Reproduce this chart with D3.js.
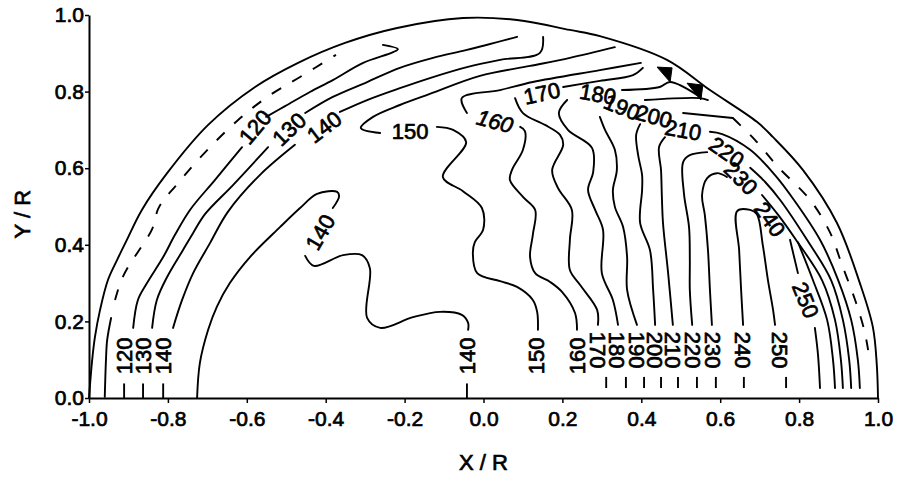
<!DOCTYPE html>
<html><head><meta charset="utf-8">
<script src="https://cdn.jsdelivr.net/npm/d3@7"></script>
<style>html,body{margin:0;padding:0;background:#fff;} svg{display:block;}</style>
</head><body>
<svg id="chart" width="902" height="477"></svg>
<script>
// ---------------- data (X/R, Y/R units) ----------------
const xTicks = [-1.0,-0.8,-0.6,-0.4,-0.2,0.0,0.2,0.4,0.6,0.8,1.0];
const xTickLabels = ["-1.0","-0.8","-0.6","-0.4","-0.2","0.0","0.2","0.4","0.6","0.8","1.0"];
const yTicks = [0.0,0.2,0.4,0.6,0.8,1.0];
const yTickLabels = ["0.0","0.2","0.4","0.6","0.8","1.0"];
const xTitle = "X / R";
const yTitle = "Y / R";

const boundary = [[-1.000,0],[-0.992,0.099],[-0.985,0.159],[-0.972,0.230],[-0.952,0.308],[-0.929,0.360],[-0.904,0.413],[-0.866,0.491],[-0.802,0.587],[-0.698,0.713],[-0.579,0.812],[-0.470,0.875],[-0.351,0.927],[-0.219,0.966],[-0.052,0.992],[0.085,0.987],[0.219,0.961],[0.295,0.945],[0.465,0.883],[0.574,0.804],[0.693,0.721],[0.734,0.681],[0.810,0.595],[0.896,0.457],[0.954,0.300],[0.987,0.185],[0.997,0.086],[1.000,0]];

const c110a = [[-0.960,0.003],[-0.957,0.099],[-0.954,0.151],[-0.944,0.209]];
const c110b = [[-0.934,0.256],[-0.919,0.305],[-0.901,0.342],[-0.871,0.389],[-0.840,0.441],[-0.825,0.493],[-0.807,0.522],[-0.785,0.548],[-0.719,0.627],[-0.622,0.726],[-0.541,0.791],[-0.465,0.838],[-0.374,0.896]];

const c120a = [[-0.888,0.183],[-0.876,0.256],[-0.853,0.300],[-0.812,0.368],[-0.782,0.426],[-0.744,0.491],[-0.681,0.569],[-0.612,0.655]];
const c120b = [[-0.551,0.734],[-0.503,0.762],[-0.440,0.799],[-0.382,0.830],[-0.305,0.875],[-0.229,0.903],[-0.217,0.911],[-0.255,0.922]];
const c130a = [[-0.840,0.183],[-0.828,0.256],[-0.802,0.316],[-0.762,0.386],[-0.736,0.431],[-0.706,0.480],[-0.635,0.556],[-0.546,0.655]];
const c130b = [[-0.452,0.744],[-0.382,0.786],[-0.295,0.825],[-0.212,0.862],[-0.128,0.888],[-0.042,0.909],[0.085,0.943]];
const c140a = [[-0.787,0.183],[-0.764,0.256],[-0.736,0.326],[-0.693,0.405],[-0.648,0.486],[-0.567,0.582],[-0.478,0.661]];
const c140b = [[-0.364,0.747],[-0.295,0.778],[-0.212,0.809],[-0.128,0.838],[-0.042,0.864],[0.042,0.883],[0.143,0.901],[0.151,0.943]];
const c140ia = [[-0.726,0],[-0.719,0.091],[-0.698,0.178],[-0.676,0.238],[-0.643,0.300],[-0.592,0.368],[-0.516,0.446],[-0.465,0.496],[-0.422,0.533],[-0.371,0.538],[-0.366,0.527],[-0.382,0.496]];
const c140ib = [[-0.452,0.371],[-0.430,0.345],[-0.356,0.373],[-0.308,0.373],[-0.288,0.339],[-0.295,0.209],[-0.262,0.183],[-0.179,0.211],[-0.110,0.225],[-0.055,0.217],[-0.039,0.196],[-0.039,0.178]];
const c150a = [[-0.262,0.692],[-0.311,0.705],[-0.280,0.734],[-0.212,0.765],[-0.136,0.794],[-0.009,0.841],[0.118,0.867],[0.219,0.888],[0.333,0.916]];
const c150b = [[-0.118,0.708],[-0.077,0.700],[-0.044,0.668],[-0.103,0.577],[-0.052,0.540],[-0.004,0.496],[-0.001,0.439],[-0.022,0.407],[-0.027,0.379],[-0.016,0.326],[0.042,0.305],[0.085,0.290],[0.125,0.256],[0.136,0.225],[0.138,0.178]];
const c160a = [[-0.042,0.744],[-0.055,0.783],[0.042,0.804],[0.125,0.825],[0.295,0.856],[0.399,0.875]];
const c160b = [[0.093,0.708],[0.105,0.697],[0.100,0.648],[0.072,0.595],[0.067,0.569],[0.100,0.525],[0.131,0.491],[0.125,0.426],[0.118,0.368],[0.131,0.326],[0.169,0.303],[0.199,0.277],[0.232,0.222],[0.237,0.178]];
const c170a = [[0.080,0.783],[0.100,0.744],[0.156,0.713],[0.194,0.687],[0.202,0.661],[0.174,0.595],[0.189,0.548],[0.224,0.491],[0.219,0.413],[0.219,0.334],[0.245,0.295],[0.288,0.230],[0.290,0.191]];
const c170b = [[0.202,0.812],[0.295,0.828],[0.379,0.843],[0.404,0.862]];
const c180a = [[0.212,0.778],[0.191,0.744],[0.214,0.700],[0.275,0.653],[0.278,0.590],[0.265,0.543],[0.283,0.491],[0.303,0.439],[0.300,0.326],[0.328,0.256],[0.341,0.191]];
const c180b = [[0.351,0.804],[0.447,0.812],[0.473,0.825],[0.549,0.786]];
const c190a = [[0.295,0.734],[0.308,0.700],[0.333,0.648],[0.338,0.595],[0.328,0.543],[0.333,0.499],[0.354,0.446],[0.364,0.368],[0.364,0.282],[0.389,0.191]];
const c190b = [[0.409,0.778],[0.549,0.783],[0.569,0.778]];
const c200a = [[0.397,0.715],[0.387,0.687],[0.392,0.634],[0.402,0.582],[0.402,0.543],[0.397,0.457],[0.422,0.386],[0.430,0.282],[0.435,0.191]];
const c200b = [[0.506,0.744],[0.632,0.731]];
const c200c = [[0.632,0.731],[0.688,0.674],[0.747,0.603],[0.828,0.517],[0.878,0.433],[0.909,0.347],[0.942,0.256],[0.965,0.178],[0.975,0.125]];
const c210a = [[0.460,0.681],[0.445,0.655],[0.450,0.595],[0.452,0.530],[0.455,0.457],[0.468,0.326],[0.480,0.191]];
const c210b = [[0.574,0.695],[0.605,0.689],[0.676,0.648],[0.739,0.582],[0.787,0.517],[0.853,0.413],[0.899,0.308],[0.932,0.204],[0.949,0.099],[0.954,0.026]];
const c220a = [[0.567,0.642],[0.523,0.634],[0.506,0.616],[0.508,0.535],[0.521,0.446],[0.523,0.360],[0.523,0.282],[0.529,0.191]];
const c220b = [[0.676,0.601],[0.714,0.564],[0.752,0.517],[0.820,0.413],[0.881,0.308],[0.911,0.204],[0.927,0.099],[0.932,0.026]];
const c230a = [[0.617,0.577],[0.592,0.587],[0.567,0.574],[0.554,0.530],[0.561,0.478],[0.569,0.386],[0.574,0.282],[0.579,0.191]];
const c230b = [[0.706,0.530],[0.747,0.478],[0.792,0.413],[0.858,0.308],[0.891,0.204],[0.906,0.099],[0.911,0.026]];
const c240a = [[0.658,0.191],[0.653,0.282],[0.648,0.386],[0.643,0.488],[0.676,0.491],[0.693,0.480],[0.708,0.399],[0.721,0.308],[0.734,0.230],[0.739,0.191]];
const c240b = [[0.777,0.413],[0.797,0.326]];
const c240c = [[0.840,0.183],[0.848,0.112],[0.853,0.026]];
const c240d = [[0.797,0.407],[0.835,0.308],[0.871,0.204],[0.886,0.099],[0.891,0.026]];

const tri1 = [[0.440,0.864],[0.478,0.862],[0.473,0.825]];
const tri2 = [[0.516,0.822],[0.556,0.817],[0.551,0.778]];

const leftStubX = [-0.911,-0.863,-0.812,-0.042];
const leftStubY = [0.0,0.038];
const rightStubX = [0.311,0.361,0.407,0.450,0.493,0.541,0.589,0.660,0.767];
const rightStubY = [0.026,0.055];

const inLabelText = ["120","130","140","140","150","160","170","180","190","200","210","220","230","240","250"];
const inLabelX = [-0.579,-0.493,-0.404,-0.414,-0.186,0.029,0.148,0.290,0.351,0.432,0.506,0.617,0.653,0.726,0.817];
const inLabelY = [0.708,0.702,0.708,0.433,0.697,0.723,0.796,0.794,0.760,0.736,0.700,0.642,0.574,0.467,0.256];

const bottomLeftText = ["120","130","140","140","150","160"];
const bottomLeftX = [-0.911,-0.863,-0.812,-0.042,0.133,0.237];
const bottomLeftY = 0.110;
const bottomRightText = ["170","180","190","200","210","220","230","240","250"];
const bottomRightX = [0.290,0.338,0.389,0.435,0.480,0.531,0.582,0.658,0.752];
const bottomRightY = 0.125;

// ---------------- drawing ----------------
const W = 902, H = 477;
const FONT = "'Liberation Sans', Arial, Helvetica, sans-serif";
const svg = d3.select("#chart");
svg.append("rect").attr("width", W).attr("height", H).attr("fill", "#fff");

const x = d3.scaleLinear().domain([-1, 1]).range([89, 878]);
const y = d3.scaleLinear().domain([0, 1]).range([398, 15]);

const line = d3.line().x(d => x(d[0])).y(d => y(d[1])).curve(d3.curveCatmullRom.alpha(0.5));
const straight = d3.line().x(d => x(d[0])).y(d => y(d[1]));

const solidLines = [boundary, c110a, c120a, c120b, c130a, c130b, c140a, c140b, c140ia, c140ib,
  c150a, c150b, c160a, c160b, c170a, c170b, c180a, c180b, c190a, c190b, c200a, c200b,
  c210a, c210b, c220a, c220b, c230a, c230b, c240a, c240b, c240c, c240d];
const dashedLines = [c110b, c200c];

const g = svg.append("g");
g.selectAll("path.solid").data(solidLines).join("path")
  .attr("class", "solid").attr("d", line)
  .attr("fill", "none").attr("stroke", "#000").attr("stroke-width", 1.9)
  .attr("stroke-linejoin", "round").attr("stroke-linecap", "round");
g.selectAll("path.dashed").data(dashedLines).join("path")
  .attr("class", "dashed").attr("d", line)
  .attr("fill", "none").attr("stroke", "#000").attr("stroke-width", 1.9)
  .attr("stroke-dasharray", "11,13");

g.selectAll("path.tri").data([tri1, tri2]).join("path")
  .attr("class", "tri").attr("d", d => straight(d) + "Z").attr("fill", "#000").attr("stroke", "#000");

g.selectAll("line.ls").data(leftStubX).join("line").attr("class", "ls")
  .attr("x1", d => x(d)).attr("x2", d => x(d)).attr("y1", y(leftStubY[0])).attr("y2", y(leftStubY[1]))
  .attr("stroke", "#000").attr("stroke-width", 1.9);
g.selectAll("line.rs").data(rightStubX).join("line").attr("class", "rs")
  .attr("x1", d => x(d)).attr("x2", d => x(d)).attr("y1", y(rightStubY[0])).attr("y2", y(rightStubY[1]))
  .attr("stroke", "#000").attr("stroke-width", 1.9);

// contour labels
const inAngles = [-50,-44,-37,-60,0,15,-12,10,22,15,10,35,45,55,68];
const labelSize = 22;
const heavy = sel => sel.attr("fill", "#000").attr("stroke", "#000").attr("stroke-width", 0.7);
heavy(g.selectAll("text.il").data(inLabelText).join("text").attr("class", "il")
  .attr("transform", (d, i) => `translate(${x(inLabelX[i])},${y(inLabelY[i])}) rotate(${inAngles[i]})`)
  .attr("text-anchor", "middle").attr("dy", "0.36em")
  .attr("font-family", FONT).attr("font-size", labelSize)
  .attr("font-style", (d, i) => i === 5 ? "italic" : "normal")
  .text(d => d));
heavy(g.selectAll("text.bl").data(bottomLeftText).join("text").attr("class", "bl")
  .attr("transform", (d, i) => `translate(${x(bottomLeftX[i])},${y(bottomLeftY)}) rotate(-90)`)
  .attr("text-anchor", "middle").attr("dy", "0.36em")
  .attr("font-family", FONT).attr("font-size", labelSize).text(d => d));
heavy(g.selectAll("text.br").data(bottomRightText).join("text").attr("class", "br")
  .attr("transform", (d, i) => `translate(${x(bottomRightX[i])},${y(bottomRightY)}) rotate(90)`)
  .attr("text-anchor", "middle").attr("dy", "0.36em")
  .attr("font-family", FONT).attr("font-size", labelSize).text(d => d));

// axes
const xAxis = d3.axisBottom(x).tickValues(xTicks).tickFormat((d, i) => xTickLabels[i])
  .tickSize(5).tickSizeOuter(0).tickPadding(8);
const yAxis = d3.axisLeft(y).tickValues(yTicks).tickFormat((d, i) => yTickLabels[i])
  .tickSize(4).tickSizeOuter(0).tickPadding(1);
const gx = svg.append("g").attr("transform", `translate(0,${y(0)})`).call(xAxis);
const gy = svg.append("g").attr("transform", `translate(${x(-1)},0)`).call(yAxis);
[gx, gy].forEach(a => {
  a.select(".domain").attr("stroke-width", 2);
  a.selectAll(".tick line").attr("stroke-width", 1.5);
  heavy(a.selectAll("text").attr("font-family", FONT).attr("font-size", 21));
});

heavy(svg.append("text").attr("x", x(0)).attr("y", 470).attr("text-anchor", "middle")
  .attr("font-family", FONT).attr("font-size", 22).text(xTitle));
heavy(svg.append("text").attr("transform", `translate(22,${y(0.48)}) rotate(-90)`)
  .attr("text-anchor", "middle").attr("dy", "0.36em")
  .attr("font-family", FONT).attr("font-size", 22).text(yTitle));
</script>
</body></html>
